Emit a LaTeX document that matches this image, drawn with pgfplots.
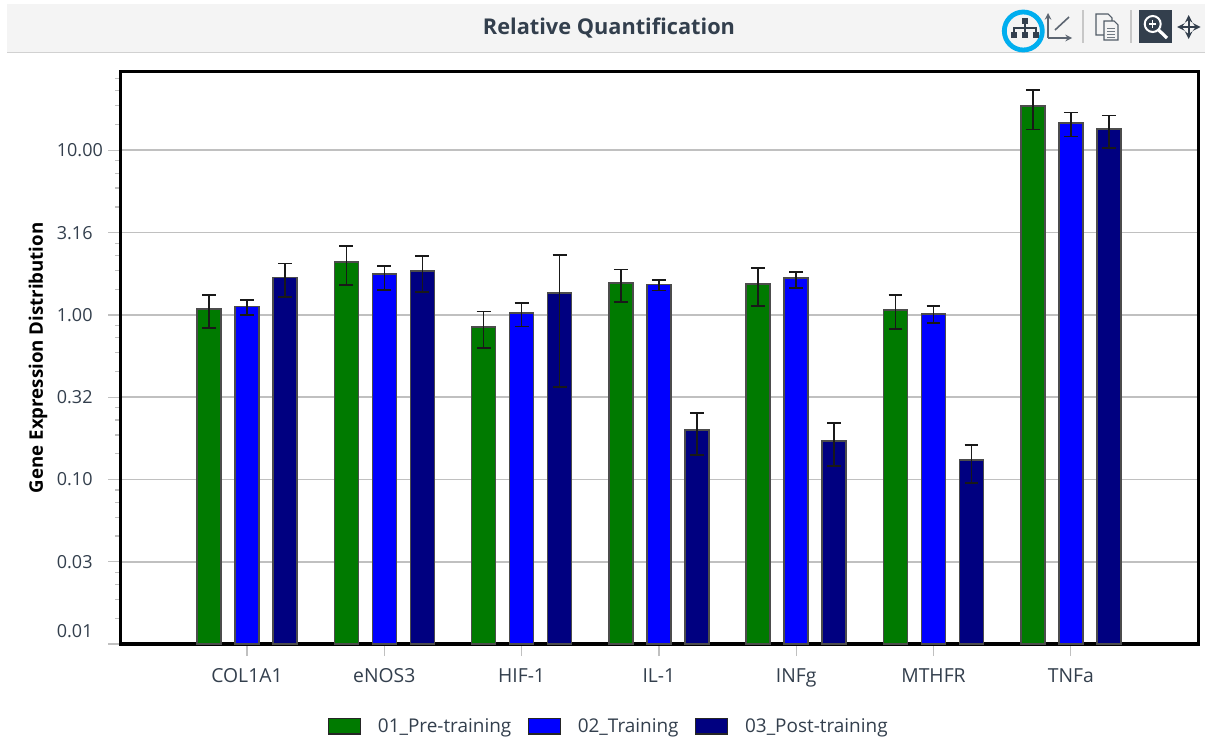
\documentclass[border=0pt]{standalone}
\usepackage{fontspec}
\setmainfont{Open Sans}
\usepackage{pgfplots}
\usepackage{pgfplotstable}
\pgfplotsset{compat=1.18}
\definecolor{txt}{HTML}{333F4D}
\definecolor{gridc}{HTML}{C0C0C0}
\definecolor{gr}{RGB}{0,122,0}
\definecolor{bl}{RGB}{0,0,255}
\definecolor{nv}{RGB}{0,0,128}
\definecolor{cyc}{RGB}{0,174,239}
\pgfplotstableread{
x y ep em
0 1.088 0.235 0.254
1 2.100 0.527 0.578
2 0.845 0.202 0.215
3 1.559 0.326 0.365
4 1.544 0.386 0.410
5 1.073 0.250 0.251
6 18.58 4.72 5.20
}\tblpre
\pgfplotstableread{
x y ep em
0 1.123 0.111 0.123
1 1.776 0.210 0.357
2 1.024 0.154 0.175
3 1.528 0.104 0.123
4 1.679 0.146 0.220
5 1.014 0.120 0.120
6 14.63 2.33 2.51
}\tbltra
\pgfplotstableread{
x y ep em
0 1.686 0.364 0.399
1 1.852 0.432 0.472
2 1.355 0.961 0.990
3 0.200 0.054 0.059
4 0.171 0.049 0.050
5 0.131 0.031 0.036
6 13.45 2.83 3.10
}\tblpost
\begin{document}
\begin{tikzpicture}
\useasboundingbox (0,0) rectangle (903.75pt,-555pt);
\begin{scope}[x=0.75pt,y=-0.75pt]
\fill[white] (0,0) rectangle (1205,740);
\fill[black!4.5] (7,4) rectangle (1205,52);
\draw[black!18,line width=1pt] (7,52.5) -- (1205,52.5);
\node[text=txt,font=\fontsize{16.3}{20}\selectfont\bfseries] at (609,28.5) {Relative Quantification};
% hierarchy icon
\draw[cyc,line width=3.6pt] (1023.3,31) circle (19);
\fill[txt] (1022,18) rectangle (1028,24);
\fill[txt] (1011,32) rectangle (1017,38);
\fill[txt] (1022,32) rectangle (1028,38);
\fill[txt] (1033,32) rectangle (1039,38);
\draw[txt,line width=1pt] (1025,24) -- (1025,32) (1014,32) -- (1014,28) -- (1036,28) -- (1036,32);
% axes icon
\draw[txt!80,line width=1.2pt,-stealth] (1048,38) -- (1048,13);
\draw[txt!80,line width=1.2pt,-stealth] (1048,38) -- (1072,38);
\draw[txt!80,line width=1.2pt] (1055,30) -- (1069,17);
% separators
\draw[black!22,line width=1.2pt] (1082.7,10) -- (1082.7,43);
\draw[black!22,line width=1.2pt] (1131,10) -- (1131,43);
% copy icon
\draw[txt!85,line width=0.8pt,fill=black!4.5] (1096,14) -- (1108,14) -- (1112,18) -- (1112,35) -- (1096,35) -- cycle;
\draw[txt!85,line width=0.8pt,fill=black!4.5] (1104,21) -- (1114,21) -- (1118,25) -- (1118,40) -- (1104,40) -- cycle;
\draw[txt!70,line width=0.6pt] (1107,28) -- (1115,28) (1107,31) -- (1115,31) (1107,34) -- (1115,34) (1107,37) -- (1115,37);
% magnifier
\fill[txt] (1138.7,10) rectangle (1172,43);
\draw[white,line width=1.5pt] (1152.7,24) circle (8);
\draw[white,line width=2.4pt] (1158.6,30) -- (1167,38);
\draw[white,line width=1pt] (1149,24) -- (1156.4,24) (1152.7,20.3) -- (1152.7,27.7);
% move
\draw[txt,line width=1.5pt,stealth-stealth] (1177,27) -- (1200.5,27);
\draw[txt,line width=1.5pt,stealth-stealth] (1188.7,15) -- (1188.7,39);
\end{scope}
\begin{axis}[
  at={(90.375pt,-53.625pt)}, anchor=north west,
  scale only axis, width=808.5pt, height=429.4pt,
  xmin=-0.921, xmax=6.93,
  ymode=log, log basis y=10, ymin=0.01, ymax=30.1, log origin y=infty,
  ybar, bar width=18pt,
  axis line style={black,line width=2.4pt},
  tick align=outside, tick pos=left,
  major tick length=9pt, minor tick length=4pt,
  every tick/.style={gridc,line width=1pt},
  minor tick style={gridc,line width=0.9pt},
  xtick={0,1,2,3,4,5,6},
  xticklabels={COL1A1,eNOS3,HIF-1,IL-1,INFg,MTHFR,TNFa},
  ytick={0.01,0.0316,0.1,0.316,1,3.16,10},
  yticklabels={\raisebox{5pt}[0pt][0pt]{0.01},0.03,0.10,0.32,1.00,3.16,10.00},
  minor ytick={0.01432,0.01864,0.02296,0.02728,0.04528,0.05896,0.07264,0.08632,0.1432,0.1864,0.2296,0.2728,0.4528,0.5896,0.7264,0.8632,1.432,1.864,2.296,2.728,4.528,5.896,7.264,8.632,14.32,18.64,22.96,27.28},
  ymajorgrids, major grid style={gridc,line width=1.2pt},
  yminorgrids=false,
  tick label style={text=txt,font=\fontsize{13.5}{16}\selectfont},
  xticklabel style={font=\fontsize{14.5}{16}\selectfont,yshift=-6pt},
  yticklabel style={text width=35pt,align=left,anchor=east,inner sep=0pt,xshift=-3.5pt},
  ylabel={Gene Expression Distribution},
  ylabel style={at={(axis description cs:-0.0765,0.5)},anchor=center,font=\fontsize{14}{16}\selectfont\bfseries,text=black},
  legend style={at={(axis description cs:0.4532,-0.1435)},anchor=center,draw=none,fill=none,
    font=\fontsize{14.2}{16}\selectfont,text=txt,legend columns=3,
    /tikz/every even column/.append style={column sep=10.3pt},
    /tikz/every odd column/.append style={column sep=10.5pt},
    legend cell align=left},
  error bars/error bar style={black!90,line width=1.1pt},
  error bars/error mark options={rotate=90,mark size=5.2pt,line width=1.1pt,black!90},
]
\addplot[fill=gr,draw=black!70,line width=1.1pt,bar shift=-28.5pt,forget plot,error bars/y dir=both,error bars/y explicit]
  table[x=x,y=y,y error plus=ep,y error minus=em]{\tblpre};
\addplot[fill=bl,draw=black!70,line width=1.1pt,bar shift=0pt,forget plot,error bars/y dir=both,error bars/y explicit]
  table[x=x,y=y,y error plus=ep,y error minus=em]{\tbltra};
\addplot[fill=nv,draw=black!70,line width=1.1pt,bar shift=28.5pt,forget plot,error bars/y dir=both,error bars/y explicit]
  table[x=x,y=y,y error plus=ep,y error minus=em]{\tblpost};
\addlegendimage{legend image code/.code={\draw[fill=gr,draw=black!85,line width=1.1pt] (0pt,-5.8pt) rectangle (24pt,5.8pt);}}
\addlegendentry{01\_Pre-training}
\addlegendimage{legend image code/.code={\draw[fill=bl,draw=black!85,line width=1.1pt] (0pt,-5.8pt) rectangle (24pt,5.8pt);}}
\addlegendentry{02\_Training}
\addlegendimage{legend image code/.code={\draw[fill=nv,draw=black!85,line width=1.1pt] (0pt,-5.8pt) rectangle (24pt,5.8pt);}}
\addlegendentry{03\_Post-training}
\end{axis}
\end{tikzpicture}
\end{document}
